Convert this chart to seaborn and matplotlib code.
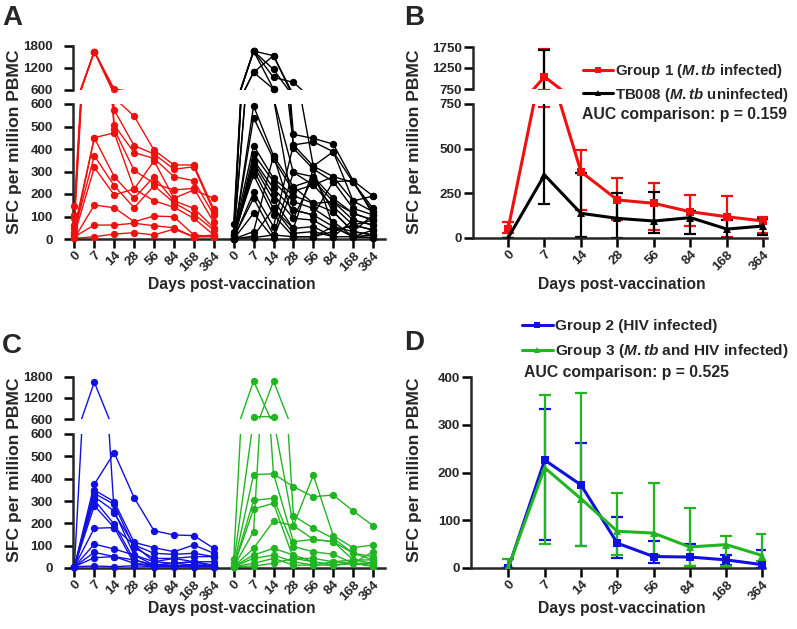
import numpy as np
import pandas as pd
import matplotlib
matplotlib.use("Agg")
import matplotlib.pyplot as plt
import seaborn as sns
from matplotlib.lines import Line2D

sns.set_theme(style="ticks")
plt.rcParams['font.family'] = ['Liberation Sans', 'DejaVu Sans']
plt.rcParams['font.weight'] = 'bold'
plt.rcParams['mathtext.fontset'] = 'custom'
plt.rcParams['mathtext.it'] = 'Liberation Sans:italic:bold'
plt.rcParams['mathtext.rm'] = 'Liberation Sans:bold'

# ---------------- data ----------------
days = [0, 7, 14, 28, 56, 84, 168, 364]

group1_individual = [
    [148, 1650, 627, 546, 395, 329, 329, 133],
    [107, 1650, 573, 415, 378, 310, 321, 121],
    [95, 1650, 506, 384, 358, 277, 259, 107],
    [62, 1650, 487, 305, 247, 218, 225, 74],
    [47, 450, 277, 181, 277, 170, 136, 50],
    [33, 370, 237, 139, 237, 161, 111, 40],
    [18, 318, 196, 222, 170, 141, 92, 18],
    [3, 151, 139, 77, 102, 99, 18, 10],
    [10, 62, 62, 70, 59, 50, 9, 18],
    [3, 10, 22, 28, 18, 44, 9, 10],
    [25, 450, 472, 222, 347, 181, 218, 181],
]
tb008_individual = [
    [67, 1663, 1536, 465, 447, 422, 259, 191],
    [33, 1663, 1163, 418, 432, 388, 252, 136],
    [18, 1663, 945, 809, 324, 277, 169, 121],
    [6, 1082, 1536, 403, 311, 255, 136, 107],
    [0, 1082, 627, 296, 277, 181, 114, 84],
    [0, 591, 370, 233, 262, 166, 84, 62],
    [6, 539, 355, 213, 240, 144, 62, 40],
    [18, 415, 270, 193, 158, 121, 33, 18],
    [0, 378, 255, 166, 136, 77, 10, 6],
    [0, 351, 225, 129, 107, 55, 33, 107],
    [6, 341, 198, 92, 84, 33, 62, 84],
    [0, 326, 173, 47, 55, 10, 84, 62],
    [0, 307, 136, 25, 33, 10, 10, 18],
    [18, 284, 107, 10, 10, 55, 10, 40],
    [0, 207, 55, 418, 324, 388, 169, 191],
    [6, 181, 18, 296, 240, 277, 252, 121],
    [0, 114, 3, 233, 158, 166, 114, 84],
    [0, 33, 370, 92, 277, 121, 33, 18],
    [0, 13, 136, 47, 311, 55, 10, 6],
    [0, 6, 18, 10, 10, 33, 62, 40],
    [6, 1663, 627, 129, 107, 255, 259, 107],
]
group2_individual = [
    [6, 1650, 245, 103, 66, 61, 66, 51],
    [6, 375, 516, 315, 167, 148, 145, 88],
    [6, 349, 297, 115, 91, 73, 103, 66],
    [6, 334, 285, 91, 43, 43, 51, 51],
    [6, 319, 255, 58, 28, 21, 28, 28],
    [6, 304, 196, 36, 13, 9, 13, 13],
    [6, 279, 181, 21, 13, 21, 28, 6],
    [6, 178, 181, 103, 28, 43, 28, 13],
    [6, 107, 85, 58, 13, 9, 13, 6],
    [6, 70, 51, 36, 13, 21, 13, 6],
    [6, 46, 51, 21, 6, 9, 6, 6],
    [6, 9, 6, 10, 6, 6, 6, 6],
]
group3_individual = [
    [39, 1685, 422, 364, 319, 327, 255, 190],
    [21, 667, 667, 190, 416, 145, 91, 103],
    [6, 163, 1685, 234, 178, 133, 66, 51],
    [9, 418, 422, 118, 128, 118, 36, 36],
    [6, 303, 312, 96, 73, 61, 21, 21],
    [6, 264, 290, 43, 43, 28, 21, 73],
    [6, 88, 210, 190, 128, 118, 66, 36],
    [6, 58, 88, 58, 28, 13, 21, 9],
    [6, 43, 58, 28, 13, 28, 36, 21],
    [6, 21, 43, 13, 13, 13, 21, 9],
    [6, 9, 21, 43, 28, 13, 21, 9],
]

g1_center = [48, 1043, 371, 213, 194, 147, 119, 95]
g1_upper = [91, 1700, 493, 334, 306, 241, 235, 116]
g1_lower = [30, 735, 157, 100, 45, 67, 5, 26]
tb_center = [0, 353, 138, 110, 95, 114, 50, 67]
tb_upper = [0, 1678, 362, 254, 259, 150, 101, 106]
tb_lower = [0, 188, 7, 0, 26, 20, 0, 17]

g2_center = [0, 226, 174, 52, 24, 23, 17, 7]
g2_upper = [0, 332, 261, 106, 57, 51, 28, 37]
g2_lower = [0, 58, 47, 21, 10, 5, 7, 0]
g3_center = [2, 210, 145, 77, 73, 44, 49, 26]
g3_upper = [19, 362, 367, 157, 177, 125, 66, 72]
g3_lower = [0, 51, 47, 28, 28, 5, 5, 14]

RED = '#f01010'
BLACK = '#000000'
BLUE = '#1010e0'
GREEN = '#22b522'

W, H = 797, 629
fig = plt.figure(figsize=(W / 100, H / 100), dpi=100)


def fax(x0, y0, x1, y1):
    return fig.add_axes([x0 / W, 1 - y1 / H, (x1 - x0) / W, (y1 - y0) / H])


TICKFS = 9.6
SPW = 1.8


def style(ax, bottom=True, ypad=1.5):
    for s in ['top', 'right']:
        ax.spines[s].set_visible(False)
    ax.spines['left'].set_linewidth(SPW)
    ax.spines['bottom'].set_linewidth(SPW)
    ax.tick_params(axis='both', width=SPW, length=6.5, labelsize=TICKFS, color='black')
    ax.tick_params(axis='x', pad=1.0)
    ax.tick_params(axis='y', pad=ypad)
    if not bottom:
        ax.spines['bottom'].set_visible(False)
        ax.tick_params(axis='x', bottom=False, labelbottom=False)
    for lab in ax.get_yticklabels():
        lab.set_fontweight('bold')
    ax.set_facecolor('none')
    ax.set_xlabel('')
    ax.set_ylabel('')


def long_df(groups):
    rows = []
    pid = 0
    for offset, data in groups:
        for traj in data:
            for i, v in enumerate(traj):
                rows.append(dict(pid=pid, pos=i + offset, val=v))
            pid += 1
    return pd.DataFrame(rows)


def individual_panel(top_box, bot_box, groups, colors):
    ax_t = fax(*top_box)
    ax_b = fax(*bot_box)
    for ax, (lo, hi) in [(ax_t, (600, 1800)), (ax_b, (0, 600))]:
        for (offset, data), c in zip(groups, colors):
            df = long_df([(offset, data)])
            sns.lineplot(data=df, x='pos', y='val', units='pid', estimator=None,
                         color=c, lw=1.0, ax=ax, legend=False)
            sub = df[(df.val >= lo) & (df.val <= hi)]
            sns.scatterplot(data=sub, x='pos', y='val', color=c, s=28,
                            linewidth=0, ax=ax, legend=False, clip_on=False, zorder=3)
        ax.set_ylim(lo, hi)
        ax.set_xlim(-0.07, 15.6)
    ax_t.set_yticks([600, 1200, 1800])
    ax_b.set_yticks([0, 100, 200, 300, 400, 500, 600])
    style(ax_t, bottom=False, ypad=8)
    style(ax_b, ypad=8)
    ax_b.set_xticks(range(16))
    ax_b.set_xticklabels([str(d) for d in days] * 2, rotation=45, ha='right',
                         rotation_mode='anchor', fontsize=TICKFS, fontweight='bold')
    return ax_t, ax_b


def summary_lines(ax, centers, uppers, lowers, colors, markers, labels, msize):
    rows = []
    for c, lab in zip(centers, labels):
        for i, v in enumerate(c):
            rows.append(dict(pos=i, val=v, grp=lab))
    df = pd.DataFrame(rows)
    for (cen, up, lo, col) in zip(centers, uppers, lowers, colors):
        x = np.arange(len(cen))
        cen_a = np.array(cen, float)
        yerr = [cen_a - np.array(lo, float), np.array(up, float) - cen_a]
        ax.errorbar(x, cen_a, yerr=yerr, fmt='none', ecolor=col, elinewidth=1.6,
                    capsize=4, capthick=1.6, zorder=2)
    sns.lineplot(data=df, x='pos', y='val', hue='grp', style='grp',
                 palette=dict(zip(labels, colors)), markers=dict(zip(labels, markers)),
                 dashes=False, lw=2.2, markersize=msize, markeredgewidth=0,
                 ax=ax, legend=False, zorder=3)


# ---------------- Panel A ----------------
individual_panel((73, 46, 385, 90), (73, 104, 385, 239),
                 [(0, group1_individual), (8, tb008_individual)], [RED, BLACK])

# ---------------- Panel C ----------------
individual_panel((73, 377, 385, 419), (73, 434, 385, 568),
                 [(0, group2_individual), (8, group3_individual)], [BLUE, GREEN])

# ---------------- Panel B ----------------
bt = fax(473, 47, 767, 89)
bb = fax(473, 104, 767, 238)
for ax, (lo, hi) in [(bt, (750, 1750)), (bb, (0, 750))]:
    summary_lines(ax, [g1_center, tb_center], [g1_upper, tb_upper], [g1_lower, tb_lower],
                  [RED, BLACK], ['s', '^'], ['g1', 'tb'], 6)
    ax.set_ylim(lo, hi)
    ax.set_xlim(-0.96, 7.1)
bt.set_yticks([750, 1250, 1750])
bb.set_yticks([0, 250, 500, 750])
style(bt, bottom=False)
style(bb)
bb.set_xticks(range(8))
bb.set_xticklabels([str(d) for d in days], rotation=45, ha='right',
                   rotation_mode='anchor', fontsize=TICKFS, fontweight='bold')

# ---------------- Panel D ----------------
dd = fax(471, 377, 765, 568)
summary_lines(dd, [g2_center, g3_center], [g2_upper, g3_upper], [g2_lower, g3_lower],
              [BLUE, GREEN], ['s', '^'], ['g2', 'g3'], 6)
dd.set_ylim(0, 400)
dd.set_xlim(-1.03, 7.07)
dd.set_yticks([0, 100, 200, 300, 400])
style(dd)
dd.set_xticks(range(8))
dd.set_xticklabels([str(d) for d in days], rotation=45, ha='right',
                   rotation_mode='anchor', fontsize=TICKFS, fontweight='bold')

# ---------------- legends ----------------
def legend_at(handles_info, x, y, spacing, fs):
    handles = [Line2D([0], [0], color=c, marker=m, lw=2.2, markersize=5, markeredgewidth=0)
               for c, m, _ in handles_info]
    labels = [t for _, _, t in handles_info]
    leg = fig.legend(handles, labels, loc='upper left', bbox_to_anchor=(x / W, 1 - y / H),
                     frameon=False, fontsize=fs, handlelength=2.0, handletextpad=0.15,
                     labelspacing=spacing, borderpad=0, borderaxespad=0)
    for t in leg.get_texts():
        t.set_fontweight('bold')
    return leg


legend_at([(RED, 's', r'Group 1 ($\mathit{M.tb}$ infected)'),
           (BLACK, '^', r'TB008 ($\mathit{M.tb}$ uninfected)')], 583, 62, 0.38, 10.8)
fig.text(582 / W, 1 - 115 / H, 'AUC comparison: p = 0.159', fontsize=11.3,
         fontweight='bold', va='center', ha='left')

legend_at([(BLUE, 's', 'Group 2 (HIV infected)'),
           (GREEN, '^', r'Group 3 ($\mathit{M.tb}$ and HIV infected)')], 522, 319, 0.6, 11.1)
fig.text(627 / W, 1 - 373 / H, 'AUC comparison: p = 0.525', fontsize=11.3,
         fontweight='bold', va='center', ha='center')

# ---------------- axis titles ----------------
for xc, yc in [(232, 284), (622, 284), (232, 609), (622, 609)]:
    fig.text(xc / W, 1 - yc / H, 'Days post-vaccination', fontsize=11.3,
             fontweight='bold', ha='center', va='center')
for xc, yc in [(15, 142), (415, 142), (15, 470), (415, 470)]:
    fig.text(xc / W, 1 - yc / H, 'SFC per million PBMC', fontsize=12.6,
             fontweight='bold', ha='center', va='center', rotation=90)

for txt, xc, yc in [('A', 2, 5), ('B', 404, 5), ('C', 2, 333), ('D', 404, 330)]:
    fig.text(xc / W, 1 - yc / H, txt, fontsize=20, fontweight='bold', ha='left', va='top')

fig.savefig('out.png', dpi=100)
